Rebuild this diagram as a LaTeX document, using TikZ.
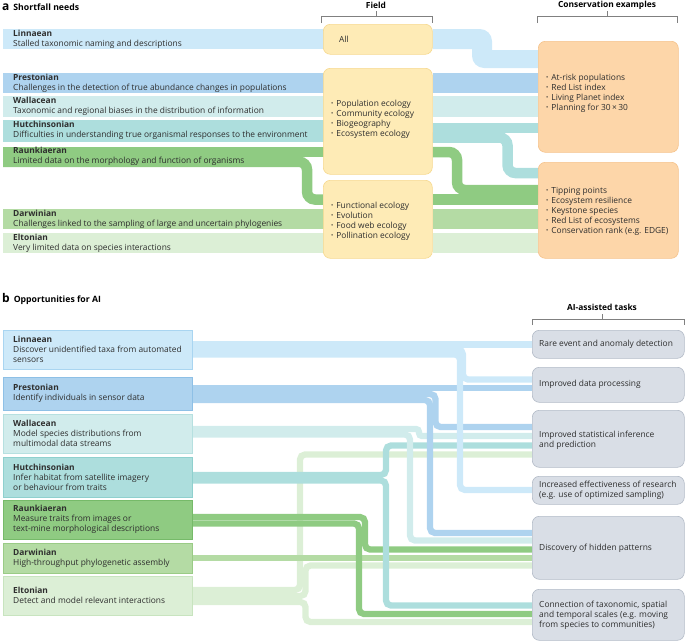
\documentclass[tikz,border=0pt]{standalone}
\usepackage{fontspec}
\setmainfont{Open Sans}
\usepackage{graphicx}
\usetikzlibrary{backgrounds}
\definecolor{LB}{HTML}{CDE9F9}
\definecolor{PB}{HTML}{AED3EF}
\definecolor{WB}{HTML}{D1ECEC}
\definecolor{HB}{HTML}{ADDEDD}
\definecolor{RB}{HTML}{8FCB82}
\definecolor{DB}{HTML}{B4DBA4}
\definecolor{EB}{HTML}{DCEFD6}
\definecolor{LBd}{HTML}{A9D5F1}
\definecolor{PBd}{HTML}{8EC0E6}
\definecolor{WBd}{HTML}{B6E0E0}
\definecolor{HBd}{HTML}{8FD0CE}
\definecolor{RBd}{HTML}{76BA69}
\definecolor{DBd}{HTML}{9ACB86}
\definecolor{EBd}{HTML}{C8E4BF}
\definecolor{FY}{HTML}{FEEBB6}
\definecolor{FYd}{HTML}{F6D990}
\definecolor{CO}{HTML}{FDD6A9}
\definecolor{COd}{HTML}{F5C38C}
\definecolor{TG}{HTML}{D9DEE6}
\definecolor{TGd}{HTML}{B3BBC7}
\definecolor{TX}{HTML}{2E2E2E}
\definecolor{BR}{HTML}{808080}
\newcommand\bul{\raisebox{0.25ex}{\scalebox{0.7}{\textbullet}}\hspace{3pt}}
\begin{document}
\begin{tikzpicture}[x=1pt,y=-1pt,
  txt/.style={font=\fontsize{8.4}{10}\selectfont, inner sep=0pt, align=left, text=TX, anchor=west},
  hd/.style={font=\fontsize{8.4}{10}\selectfont\bfseries, inner sep=0pt, text=black},
  fbox/.style={draw=FYd, fill=FY, rounded corners=7pt, line width=0.6pt, inner sep=0pt, anchor=north west},
  cbox/.style={draw=COd, fill=CO, rounded corners=7pt, line width=0.6pt, inner sep=0pt, anchor=north west},
  tbox/.style={draw=TGd, fill=TG, rounded corners=7pt, line width=0.6pt, inner sep=0pt, anchor=north west, minimum width=152pt},
  lbox/.style={line width=0.6pt, inner sep=0pt, anchor=north west, minimum width=189pt},
  sa/.style={line width=10.5pt, rounded corners=8pt},
  sb/.style={line width=6.3pt, rounded corners=5pt},
  brk/.style={draw=BR, line width=0.6pt}
]
\useasboundingbox (0,0) rectangle (685,641);

% ---------- part a ----------
\node[anchor=west, inner sep=0pt] (ta) at (2,7.5) {\fontsize{12}{11}\selectfont\bfseries a\hspace{4pt}\fontsize{8.7}{10}\selectfont Shortfall needs};
\node[hd] (hField) at (376,5) {Field};
\node[hd] (hCons) at (607,5) {Conservation examples};
\draw[brk] (321,23) -- (321,16) -- (432,16) -- (432,23);
\draw[brk] (376,16) -- (376,11);
\draw[brk] (537,23) -- (537,16) -- (677,16) -- (677,23);
\draw[brk] (607,16) -- (607,11);

\node[fbox, minimum width=109pt, minimum height=30pt] (fAll) at (323,24) {};
\node[fbox, minimum width=109pt, minimum height=106pt] (fPop) at (323,68) {};
\node[fbox, minimum width=109pt, minimum height=78pt] (fFun) at (323,180) {};
\node[cbox, minimum width=140pt, minimum height=111pt] (cPop) at (538,41) {};
\node[cbox, minimum width=140pt, minimum height=96pt] (cEco) at (538,162) {};

\node[txt] (tAll) at ([xshift=16pt]fAll.west) {All};
\node[txt] (tPop) at ([xshift=8pt,yshift=2pt]fPop.west) {\bul Population ecology\\\bul Community ecology\\\bul Biogeography\\\bul Ecosystem ecology};
\node[txt] (tFun) at ([xshift=8pt,yshift=-2pt]fFun.west) {\bul Functional ecology\\\bul Evolution\\\bul Food web ecology\\\bul Pollination ecology};
\node[txt] (tcPop) at ([xshift=8pt,yshift=3pt]cPop.west) {\bul At-risk populations\\\bul Red List index\\\bul Living Planet index\\\bul Planning for 30\,×\,30};
\node[txt] (tcEco) at ([xshift=8pt,yshift=-1pt]cEco.west) {\bul Tipping points\\\bul Ecosystem resilience\\\bul Keystone species\\\bul Red List of ecosystems\\\bul Conservation rank (e.g. EDGE)};

\node[txt] (aL) at (13,39) {\textbf{Linnaean}\\Stalled taxonomic naming and descriptions};
\node[txt] (aP) at (13,83) {\textbf{Prestonian}\\Challenges in the detection of true abundance changes in populations};
\node[txt] (aW) at (13,106.5) {\textbf{Wallacean}\\Taxonomic and regional biases in the distribution of information};
\node[txt] (aH) at (13,130.5) {\textbf{Hutchinsonian}\\Difficulties in understanding true organismal responses to the environment};
\node[txt] (aR) at (13,156.5) {\textbf{Raunkiaeran}\\Limited data on the morphology and function of organisms};
\node[txt] (aD) at (13,219) {\textbf{Darwinian}\\Challenges linked to the sampling of large and uncertain phylogenies};
\node[txt] (aE) at (13,243) {\textbf{Eltonian}\\Very limited data on species interactions};

% ---------- part b ----------
\node[anchor=west, inner sep=0pt] (tb) at (2,298.5) {\fontsize{12}{11}\selectfont\bfseries b\hspace{4pt}\fontsize{8.7}{10}\selectfont Opportunities for AI};
\node[hd] (hAI) at (602,307) {AI-assisted tasks};
\draw[brk] (532,325) -- (532,319) -- (684,319) -- (684,325);
\draw[brk] (602,319) -- (602,314);

\node[lbox, fill=LB, draw=LBd, minimum height=39pt] (lL) at (3,330) {};
\node[lbox, fill=PB, draw=PBd, minimum height=33pt] (lP) at (3,377) {};
\node[lbox, fill=WB, draw=WBd, minimum height=39pt] (lW) at (3,414) {};
\node[lbox, fill=HB, draw=HBd, minimum height=40pt] (lH) at (3,457) {};
\node[lbox, fill=RB, draw=RBd, minimum height=39pt] (lR) at (3,500) {};
\node[lbox, fill=DB, draw=DBd, minimum height=30pt] (lD) at (3,543) {};
\node[lbox, fill=EB, draw=EBd, minimum height=39pt] (lE) at (3,576) {};

\node[txt] (xL) at ([xshift=10pt]lL.west) {\textbf{Linnaean}\\Discover unidentified taxa from automated\\sensors};
\node[txt] (xP) at ([xshift=10pt]lP.west) {\textbf{Prestonian}\\Identify individuals in sensor data};
\node[txt] (xW) at ([xshift=10pt]lW.west) {\textbf{Wallacean}\\Model species distributions from\\multimodal data streams};
\node[txt] (xH) at ([xshift=10pt]lH.west) {\textbf{Hutchinsonian}\\Infer habitat from satellite imagery\\or behaviour from traits};
\node[txt] (xR) at ([xshift=10pt]lR.west) {\textbf{Raunkiaeran}\\Measure traits from images or\\text-mine morphological descriptions};
\node[txt] (xD) at ([xshift=10pt]lD.west) {\textbf{Darwinian}\\High-throughput phylogenetic assembly};
\node[txt] (xE) at ([xshift=10pt]lE.west) {\textbf{Eltonian}\\Detect and model relevant interactions};

\node[tbox, minimum height=28pt] (tRare) at (532,330) {};
\node[tbox, minimum height=35pt] (tData) at (532,367) {};
\node[tbox, minimum height=57pt] (tStat) at (532,410) {};
\node[tbox, minimum height=28pt] (tIncr) at (532,476) {};
\node[tbox, minimum height=63pt] (tDisc) at (532,516) {};
\node[tbox, minimum height=51pt] (tConn) at (532,589) {};

\node[txt] (yRare) at ([xshift=7pt]tRare.west) {Rare event and anomaly detection};
\node[txt] (yData) at ([xshift=7pt]tData.west) {Improved data processing};
\node[txt] (yStat) at ([xshift=7pt,yshift=-1.5pt]tStat.west) {Improved statistical inference\\and prediction};
\node[txt] (yIncr) at ([xshift=7pt]tIncr.west) {Increased effectiveness of research\\(e.g. use of optimized sampling)};
\node[txt] (yDisc) at ([xshift=7pt]tDisc.west) {Discovery of hidden patterns};
\node[txt] (yConn) at ([xshift=7pt]tConn.west) {Connection of taxonomic, spatial\\and temporal scales (e.g. moving\\from species to communities)};

\begin{pgfonlayer}{background}
% part a bands
\fill[LB] (3,29) rectangle (330,49);
\fill[LB] (fAll.east |- 0,29) -- (480,29) .. controls (486.6,29) and (492,34.4) .. (492,41) -- (492,50) -- (cPop.west |- 0,50) -- (cPop.west |- 0,68) -- (484,68) .. controls (477.4,68) and (472,62.6) .. (472,56) -- (472,49) -- (fAll.east |- 0,49) -- cycle;
\fill[PB] (3,73) rectangle (330,93);
\draw[PB, line width=20pt] (fPop.east |- 0,83) -- (cPop.west |- 0,83);
\fill[WB] (3,96) rectangle (330,117);
\draw[WB, line width=21pt] (fPop.east |- 0,106.5) -- (cPop.west |- 0,106.5);
\fill[HB] (3,120) rectangle (330,142);
\draw[sa, HB] (fPop.east |- 0,128) -- (cPop.west |- 0,128);
\draw[sa, HB] (fPop.east |- 0,137.5) -- (507.5,137.5) -- (507.5,173) -- (cEco.west |- 0,173);
\fill[RB] (3,147) rectangle (330,157.2);
\draw[sa, RB] (3,161.75) -- (307,161.75) -- (307,199.5) -- (fFun.west |- 0,199.5);
\draw[sa, RB] (fPop.east |- 0,152) -- (457,152) -- (457,190) -- (cEco.west |- 0,190);
\draw[sa, RB] (fFun.east |- 0,199.5) -- (cEco.west |- 0,199.5);
\fill[DB] (3,209) rectangle (330,229);
\draw[DB, line width=20pt] (fFun.east |- 0,219) -- (cEco.west |- 0,219);
\fill[EB] (3,233) rectangle (330,253);
\draw[EB, line width=20pt] (fFun.east |- 0,243) -- (cEco.west |- 0,243);

% part b strands
\draw[sb, EB] (lE.east |- 0,590) -- (300,590) -- (300,454.5) -- (tStat.west |- 0,454.5);
\draw[sb, EB] (lE.east |- 0,596) -- (305.5,596) -- (305.5,565.5) -- (tDisc.west |- 0,565.5);
\draw[sb, EB] (lE.east |- 0,602) -- (305.5,602) -- (305.5,622) -- (tConn.west |- 0,622);
\draw[sb, DB] (lD.east |- 0,558) -- (tDisc.west |- 0,558);
\draw[sb, RB] (lR.east |- 0,517) -- (365,517) -- (365,549.5) -- (tDisc.west |- 0,549.5);
\draw[sb, RB] (lR.east |- 0,523.5) -- (359,523.5) -- (359,614) -- (tConn.west |- 0,614);
\draw[sb, HB] (lH.east |- 0,475) -- (386,475) -- (386,445.5) -- (tStat.west |- 0,445.5);
\draw[sb, HB] (lH.east |- 0,480.5) -- (386,480.5) -- (386,605.5) -- (tConn.west |- 0,605.5);
\draw[sb, WB, rounded corners=3pt] (lW.east |- 0,429) -- (419,429) -- (419,436) -- (tStat.west |- 0,436);
\draw[sb, WB] (lW.east |- 0,434.5) -- (410,434.5) -- (410,540.5) -- (tDisc.west |- 0,540.5);
\draw[sb, PB] (lP.east |- 0,388) -- (tData.west |- 0,388);
\draw[sb, PB] (lP.east |- 0,394) -- (435.5,394) -- (435.5,427) -- (tStat.west |- 0,427);
\draw[sb, PB] (lP.east |- 0,400) -- (430,400) -- (430,533) -- (tDisc.west |- 0,533);
\draw[sb, LB] (lL.east |- 0,344.5) -- (tRare.west |- 0,344.5);
\draw[sb, LB] (lL.east |- 0,349.5) -- (463,349.5) -- (463,379.5) -- (tData.west |- 0,379.5);
\draw[sb, LB] (lL.east |- 0,354.5) -- (460,354.5) -- (460,490) -- (tIncr.west |- 0,490);
\end{pgfonlayer}
\end{tikzpicture}
\end{document}
